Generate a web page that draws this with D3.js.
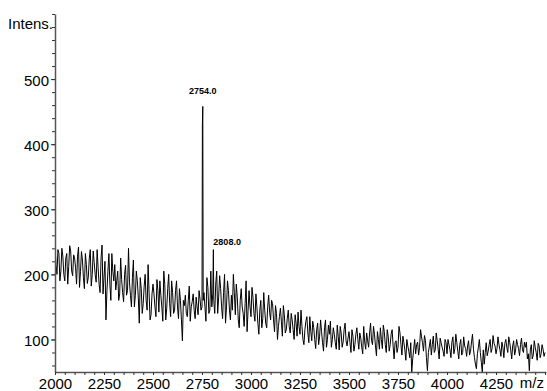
<!DOCTYPE html>
<html>
<head>
<meta charset="utf-8">
<script src="https://cdn.jsdelivr.net/npm/d3@7"></script>
<style>
  html, body { margin: 0; padding: 0; background: #fff; }
  svg { display: block; font-family: "Liberation Sans", Arial, Helvetica, sans-serif; }
</style>
</head>
<body>
<div id="chart"></div>
<script>
// spectrum: one array for 2000, 2010, ... 4500
// and one for the points in between (2005, 2015, ... 4495)
const mzStart = 2000;
const mzStep = 10;
const intensity = [
  245, 200, 232, 205, 228, 190, 232, 212, 236, 198,
  225, 185, 242, 204, 222, 178, 215, 196, 238, 200,
  218, 188, 210, 172, 245, 196, 130, 205, 185, 232,
  190, 176, 205, 170, 192, 158, 214, 175, 188, 150,
  222, 168, 190, 125, 178, 155, 200, 145, 172, 138,
  185, 150, 192, 142, 168, 128, 185, 148, 200, 135,
  172, 145, 190, 132, 160, 98, 152, 140, 160, 128,
  158, 145, 165, 138, 162, 150, 172, 128, 180, 145,
  150, 160, 185, 140, 198, 150, 172, 125, 190, 145,
  168, 200, 138, 165, 118, 178, 140, 155, 112, 175,
  135, 165, 128, 150, 108, 160, 132, 145, 118, 168,
  130, 155, 112, 140, 120, 148, 105, 138, 115, 145,
  110, 130, 100, 125, 142, 108, 120, 92, 128, 110,
  135, 98, 118, 86, 125, 105, 112, 82, 130, 100,
  108, 88, 118, 95, 122, 84, 110, 96, 125, 90,
  112, 80, 105, 92, 118, 85, 102, 78, 96, 110,
  88, 125, 92, 108, 75, 100, 118, 86, 112, 80,
  105, 92, 115, 70, 98, 88, 110, 76, 95, 68,
  90, 72, 50, 85, 78, 96, 88, 104, 82, 98,
  52, 90, 76, 105, 84, 98, 70, 95, 82, 100,
  78, 92, 72, 104, 86, 95, 70, 100, 80, 90,
  74, 98, 82, 108, 72, 55, 88, 80, 50, 62,
  95, 82, 100, 86, 94, 78, 104, 84, 96, 72,
  100, 80, 95, 70, 98, 84, 92, 75, 102, 80,
  88, 70, 52, 92, 76, 88, 68, 90, 78, 85,
  80
];
const intensityMid = [
  215, 238, 190, 240, 200, 225, 185, 244, 205, 230,
  210, 228, 180, 235, 195, 232, 186, 225, 182, 236,
  200, 238, 185, 225, 170, 220, 175, 232, 160, 205,
  215, 190, 160, 225, 172, 200, 168, 240, 168, 195,
  150, 205, 165, 195, 140, 182, 160, 215, 130, 170,
  170, 135, 175, 190, 150, 205, 130, 178, 155, 190,
  140, 175, 150, 178, 130, 160, 168, 135, 182, 150,
  170, 132, 150, 175, 145, 300, 150, 195, 140, 205,
  170, 140, 205, 165, 178, 132, 200, 150, 175, 130,
  145, 172, 185, 130, 160, 150, 120, 190, 145, 150,
  180, 140, 170, 125, 145, 118, 172, 125, 150, 142,
  160, 130, 152, 100, 135, 128, 152, 110, 132, 120,
  140, 115, 138, 105, 120, 145, 100, 115, 135, 95,
  112, 128, 100, 115, 92, 130, 95, 118, 88, 122,
  128, 100, 108, 85, 105, 120, 88, 115, 98, 102,
  95, 115, 82, 108, 100, 110, 88, 120, 85, 98,
  110, 98, 120, 90, 112, 85, 100, 122, 92, 115,
  82, 108, 90, 95, 80, 120, 92, 105, 84, 100,
  82, 95, 70, 100, 92, 76, 115, 95, 106, 72,
  80, 100, 92, 80, 110, 85, 102, 88, 74, 95,
  100, 84, 96, 78, 108, 82, 92, 76, 104, 86,
  90, 76, 96, 85, 62, 78, 100, 65, 84, 80,
  75, 92, 80, 106, 90, 86, 92, 74, 88, 94,
  88, 104, 84, 90, 76, 100, 86, 92, 84, 96,
  96, 78, 84, 70, 98, 80, 94, 72, 92, 74
];

// the two labelled peaks (off the regular grid)
const peakMz = [2752, 2754, 2756, 2808];
const peakIntensity = [430, 458, 160, 238];
const peakLabels = ['2754.0', '2808.0'];
const peakLabelMz = [2754, 2808];
const peakLabelIntensity = [458, 238];

const xTicks = [2000, 2250, 2500, 2750, 3000, 3250, 3500, 3750, 4000, 4250];
const yTicks = [100, 200, 300, 400, 500];

const W = 547, H = 391;
const margin = { top: 14, right: 1, bottom: 19, left: 55 };

const svg = d3.select('#chart').append('svg')
  .attr('width', W)
  .attr('height', H);

const x = d3.scaleLinear()
  .domain([2000, 4505])
  .range([margin.left, W - margin.right]);

const y = d3.scaleLinear()
  .domain([50, 600])
  .range([H - margin.bottom, margin.top]);

// merge grid points, in-between points and peak points
const points = intensity.map((v, i) => ({ mz: mzStart + i * mzStep, v: v }))
  .concat(intensityMid.map((v, i) => ({ mz: mzStart + mzStep / 2 + i * mzStep, v: v })))
  .concat(peakMz.map((m, i) => ({ mz: m, v: peakIntensity[i] })))
  .sort((a, b) => a.mz - b.mz);

svg.append('clipPath').attr('id', 'plot')
  .append('rect')
  .attr('x', margin.left)
  .attr('y', margin.top - 2)
  .attr('width', W - margin.left)
  .attr('height', H - margin.bottom - margin.top + 2);

const line = d3.line()
  .x(d => x(d.mz))
  .y(d => y(d.v));

svg.append('path')
  .datum(points)
  .attr('clip-path', 'url(#plot)')
  .attr('fill', 'none')
  .attr('stroke', '#000')
  .attr('stroke-width', 1)
  .attr('d', line);

// y axis: minor ticks every 20, labels every 100
svg.append('g')
  .attr('transform', `translate(${margin.left},0)`)
  .call(d3.axisLeft(y).tickValues(d3.range(60, 601, 20)).tickSize(3).tickSizeOuter(0).tickFormat(''));

const yAxisMajor = svg.append('g')
  .attr('transform', `translate(${margin.left},0)`)
  .call(d3.axisLeft(y).tickValues(yTicks).tickSize(4).tickPadding(2).tickSizeOuter(0));

yAxisMajor.select('.domain').remove();
yAxisMajor.selectAll('text')
  .attr('dy', '0.4em')
  .style('font-size', '15px')
  .attr('fill', '#000');

// x axis: minor ticks every 50
svg.append('g')
  .attr('transform', `translate(0,${H - margin.bottom})`)
  .call(d3.axisBottom(x).tickValues(d3.range(2000, 4501, 50)).tickSize(3).tickSizeOuter(0).tickFormat(''));

const xAxisMajor = svg.append('g')
  .attr('transform', `translate(0,${H - margin.bottom})`)
  .call(d3.axisBottom(x).tickValues(xTicks).tickSize(3).tickPadding(3).tickSizeOuter(0).tickFormat(d3.format('d')));

xAxisMajor.select('.domain').remove();
xAxisMajor.selectAll('text')
  .style('font-size', '15px')
  .attr('fill', '#000');

svg.selectAll('.domain')
  .attr('stroke', '#555')
  .attr('stroke-width', 1.5);
svg.selectAll('.tick line')
  .attr('stroke', '#333');

// axis titles
svg.append('text')
  .attr('x', 53)
  .attr('y', 29)
  .attr('text-anchor', 'end')
  .style('font-size', '15px')
  .text('Intens.');

svg.append('text')
  .attr('x', 544)
  .attr('y', 388)
  .attr('text-anchor', 'end')
  .style('font-size', '15px')
  .text('m/z');

// peak labels
svg.selectAll('.peak-label')
  .data(peakLabels)
  .enter().append('text')
  .attr('class', 'peak-label')
  .attr('x', (d, i) => x(peakLabelMz[i]))
  .attr('y', (d, i) => y(peakLabelIntensity[i]) - (i === 0 ? 12 : 5))
  .attr('text-anchor', (d, i) => i === 0 ? 'middle' : 'start')
  .style('font-size', '9px')
  .style('font-weight', 'bold')
  .text(d => d);
</script>
</body>
</html>
